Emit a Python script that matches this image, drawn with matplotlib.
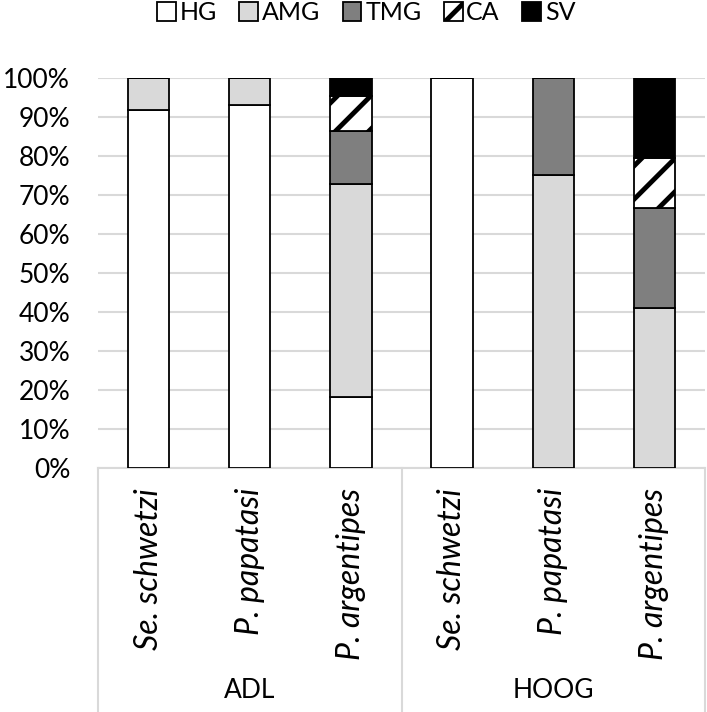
import matplotlib.pyplot as plt
import matplotlib.transforms as mtransforms
from matplotlib.lines import Line2D
from matplotlib.ticker import PercentFormatter
import numpy as np

plt.rcParams['font.family'] = ['Lato', 'DejaVu Sans']
plt.rcParams['hatch.linewidth'] = 3.5

# data (fraction of each category, stacked bottom -> top)
species = ['Se. schwetzi', 'P. papatasi', 'P. argentipes',
           'Se. schwetzi', 'P. papatasi', 'P. argentipes']
groups = ['ADL', 'HOOG']
hg = [0.917, 0.929, 0.182, 1.0, 0.0, 0.0]
amg = [0.083, 0.071, 0.545, 0.0, 0.75, 0.410]
tmg = [0.0, 0.0, 0.136, 0.0, 0.25, 0.257]
ca = [0.0, 0.0, 0.091, 0.0, 0.0, 0.128]
sv = [0.0, 0.0, 0.045, 0.0, 0.0, 0.205]

series = [('HG', hg, 'white', None),
          ('AMG', amg, '#d9d9d9', None),
          ('TMG', tmg, '#7f7f7f', None),
          ('CA', ca, 'white', '/'),
          ('SV', sv, 'black', None)]

fig = plt.figure(figsize=(7.07, 7.12), dpi=100)
ax = fig.add_axes([98 / 707, (712 - 468.3) / 712, 607 / 707, 390.6 / 712])

x = np.arange(len(species))
bottom = np.zeros(len(species))
handles = []
for name, vals, color, hatch in series:
    vals = np.array(vals)
    bars = ax.bar(x, vals, 0.41, bottom=bottom, color=color, edgecolor='black',
                  linewidth=1.3, hatch=hatch, zorder=3, label=name)
    bottom += vals
    handles.append(bars)

ax.set_xlim(-0.5, len(species) - 0.5)
ax.set_ylim(0, 1)
ax.set_yticks(np.arange(0, 1.01, 0.1))
ax.yaxis.set_major_formatter(PercentFormatter(1.0, decimals=0))
ax.tick_params(axis='y', length=0, pad=20, labelsize=19)
ax.set_xticks([])
ax.grid(axis='y', color='#d9d9d9', linewidth=1.5, zorder=0)
for s in ['top', 'right', 'left']:
    ax.spines[s].set_visible(False)
ax.spines['bottom'].set_color('#d9d9d9')
ax.spines['bottom'].set_linewidth(1.5)

# multi-level category axis below the plot
trans = mtransforms.blended_transform_factory(ax.transData, ax.transAxes)
depth = -(712 - 468.3) / 390.6
for xv in [-0.5, 2.5, len(species) - 0.5]:
    ax.add_artist(Line2D([xv, xv], [0, depth], transform=trans, color='#d9d9d9',
                         linewidth=1.5, clip_on=False))
for i, lab in enumerate(species):
    ax.text(i, -0.05, lab, transform=trans, rotation=90, ha='center', va='top',
            fontsize=23, fontstyle='italic')
for j, g in enumerate(groups):
    ax.text(3 * j + 1, -0.568, g, transform=trans, ha='center', va='center',
            fontsize=19)

leg = fig.legend(handles=handles, loc='center', bbox_to_anchor=(0.518, 0.982),
                 ncol=5, frameon=False, fontsize=18, handlelength=0.75,
                 handleheight=0.8, handletextpad=0.15, columnspacing=0.9,
                 borderaxespad=0)

fig.savefig('out.png', dpi=100)
